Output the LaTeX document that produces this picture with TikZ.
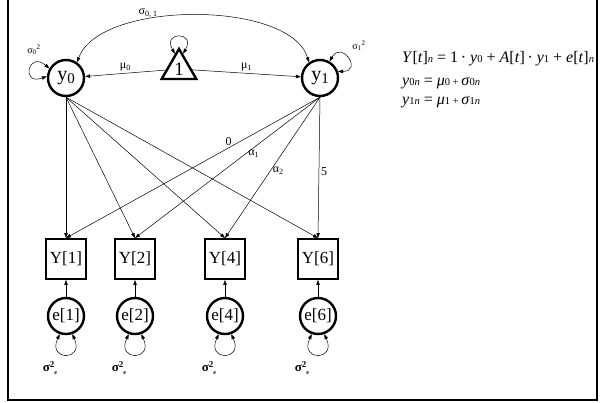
\documentclass[tikz,border=0pt]{standalone}
\usepackage{fontspec}
\setmainfont{Liberation Serif}
\usetikzlibrary{arrows.meta,positioning,shapes.geometric,calc}

\newcommand{\eqsub}[1]{{\fontsize{10.5}{10.5}\selectfont #1}}
\newcommand{\latsub}[1]{\raisebox{-3pt}{\fontsize{15}{15}\selectfont #1}}
\newcommand{\sigEps}{\fontsize{13}{13}\selectfont\textbf{σ}\raisebox{4pt}{\fontsize{9}{9}\selectfont\bfseries 2}\raisebox{-3pt}{\fontsize{6}{6}\selectfont\bfseries e}}

\begin{document}
\begin{tikzpicture}[
  x=1pt, y=-1pt,
  latent/.style={circle, draw, line width=2.4pt, minimum size=36pt, inner sep=0pt, font=\fontsize{20}{20}\selectfont},
  manifest/.style={rectangle, draw, line width=2.4pt, minimum size=39.5pt, inner sep=0pt, font=\fontsize{17}{17}\selectfont},
  const/.style={regular polygon, regular polygon sides=3, draw, line width=2.4pt, minimum size=40pt, inner sep=0pt, font=\fontsize{19}{19}\selectfont},
  regr/.style={-{Triangle[length=5pt,width=3.5pt]}, line width=0.5pt},
  cov/.style={{Triangle[length=5pt,width=3.5pt]}-{Triangle[length=5pt,width=3.5pt]}, line width=0.5pt},
  lab/.style={font=\fontsize{12}{12}\selectfont, inner sep=2pt},
  eq/.style={font=\fontsize{16}{16}\selectfont, inner sep=0pt, anchor=base west}
]
\useasboundingbox (0,0) rectangle (610,402);

% Frame
\draw[line width=2.5pt] (8,-3) rectangle (597,400);

% Latent intercept and slope
\node[latent] (y0) at (66,78) {y\latsub{0}};
\node[latent] (y1) at (320,78) {y\latsub{1}};

% Constant
\node[const] (tri) at (179,69) {1};

% Means
\draw[regr] (tri) -- node[lab, above] {μ\textsubscript{0}} (y0);
\draw[regr] (tri) -- node[lab, above] {μ\textsubscript{1}} (y1);
\draw[cov] (tri.105) .. controls +(120:26pt) and +(60:26pt) .. (tri.75);

% Variances and covariance
\draw[cov] (y0.55) .. controls (100,0) and (290,0) .. node[lab, pos=0.35, above] {σ\textsubscript{0, 1}} (y1.125);
\draw[cov] (y0.150) .. controls +(140:28pt) and +(200:28pt) .. (y0.175);
\draw[cov] (y1.60) .. controls +(60:25pt) and +(0:25pt) .. (y1.20);
\node[lab, font=\fontsize{10}{10}\selectfont] (v0) at (34,50) {σ\textsubscript{0}\textsuperscript{2}};
\node[lab, font=\fontsize{10}{10}\selectfont] (v1) at (359,46) {σ\textsubscript{1}\textsuperscript{2}};

% Observed scores and residuals
\foreach \i/\x in {1/66,2/135,4/225,6/318} {
  \node[manifest] (Y\i) at (\x,259) {Y[\i]};
  \node[latent, font=\fontsize{17}{17}\selectfont] (e\i) at (\x,316) {e[\i]};
  \draw[regr] (e\i) -- (Y\i);
  \draw[cov] (e\i.-109) .. controls +(-115:30pt) and +(-65:30pt) .. (e\i.-71);
  \node[inner sep=0pt] (se\i) at (\x-16,368) {\sigEps};
  \draw[regr] (y0.south) -- (Y\i.north);
}

% Slope loadings
\draw[regr] (y1.south) -- node[lab, pos=0.36, above] {0} (Y1.north);
\draw[regr] (y1.south) -- node[lab, pos=0.4, right] {α\textsubscript{1}} (Y2.north);
\draw[regr] (y1.south) -- node[lab, pos=0.52, right] {α\textsubscript{2}} (Y4.north);
\draw[regr] (y1.south) -- node[lab, pos=0.53, right] {5} (Y6.north);

% Model equations
\node[eq] (eq1) at (402,62) {\textit{Y}[\textit{t}]\eqsub{\textit{n}} = 1\,· \textit{y}\eqsub{0} + \textit{A}[\textit{t}]\,· \textit{y}\eqsub{1} + \textit{e}[\textit{t}]\eqsub{\textit{n}}};
\node[eq] (eq2) at (402,85) {\textit{y}\eqsub{0\textit{n}} = \textit{μ}\eqsub{0 + }\textit{σ}\eqsub{0\textit{n}}};
\node[eq] (eq3) at (402,104) {\textit{y}\eqsub{1\textit{n}} = \textit{μ}\eqsub{1 + }\textit{σ}\eqsub{1\textit{n}}};

\end{tikzpicture}
\end{document}
